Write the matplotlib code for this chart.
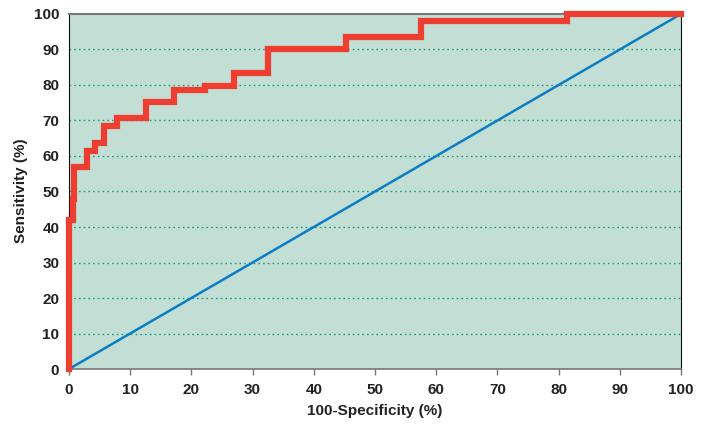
import matplotlib
matplotlib.use("Agg")
import matplotlib.pyplot as plt

# ROC step curve corners (steps-post): x = 100-specificity, y = sensitivity
fpr = [0, 0, 0.6, 0.9, 2.9, 4.2, 5.7, 7.8, 12.6, 17.2, 22.2, 27.0, 32.5, 45.3, 57.5, 81.3, 100]
tpr = [0, 42, 48, 57, 61.5, 63.8, 68.5, 70.6, 75.3, 78.6, 79.7, 83.3, 90, 93.6, 98, 100, 100]

# reference (chance) line
diag_x = [0, 100]
diag_y = [0, 100]

x_ticks = list(range(0, 101, 10))
y_ticks = list(range(0, 101, 10))

plt.rcParams['font.family'] = ['Liberation Sans Narrow', 'Liberation Sans', 'DejaVu Sans']

fig = plt.figure(figsize=(7.06, 4.24), dpi=100)
ax = fig.add_axes([0.0977, 0.1297, 0.8669, 0.8373])
ax.set_facecolor("#c3dfd5")

# dotted grid lines
for y in y_ticks[1:-1]:
    ax.axhline(y, color="#1f9e7a", linestyle=(0, (1.2, 2.2)), linewidth=1.0, zorder=1)

ax.plot(diag_x, diag_y, color="#0b7dc3", linewidth=1.8, zorder=2)
ax.plot(fpr, tpr, drawstyle="steps-post", color="#ee3e32", linewidth=4.5,
        solid_joinstyle="miter", zorder=3, clip_on=False)

ax.set_xlim(0, 100)
ax.set_ylim(0, 100)
ax.set_xticks(x_ticks)
ax.set_yticks(y_ticks)
ax.tick_params(axis="x", length=4, color="#777777", width=1, pad=6, labelsize=11)
ax.tick_params(axis="y", length=0, pad=7, labelsize=11)
for lab in ax.get_xticklabels() + ax.get_yticklabels():
    lab.set_fontweight("bold")
    lab.set_color("#222222")

ax.spines["left"].set_color("#111111")
ax.spines["right"].set_color("#111111")
ax.spines["top"].set_color("#777777")
ax.spines["bottom"].set_color("#777777")
ax.spines["top"].set_linewidth(1.5)
ax.spines["bottom"].set_linewidth(1.2)

fig.text(375 / 706, 1 - 411 / 424, "100-Specificity (%)", fontsize=11, fontweight="bold",
         color="#222222", ha="center", va="center")
fig.text(21 / 706, 1 - 191 / 424, "Sensitivity (%)", fontsize=11, fontweight="bold",
         color="#222222", ha="center", va="center", rotation=90)

fig.savefig("out.png", dpi=100)
